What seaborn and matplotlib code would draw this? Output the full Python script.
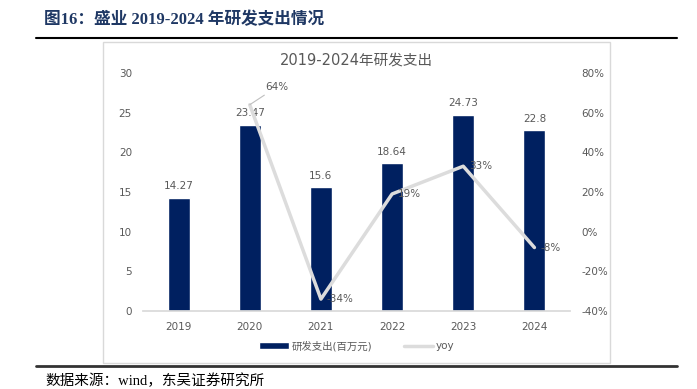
import matplotlib.pyplot as plt
import seaborn as sns
from matplotlib.patches import Rectangle
from matplotlib.lines import Line2D
from matplotlib.ticker import FuncFormatter, FixedLocator

years = ["2019", "2020", "2021", "2022", "2023", "2024"]
rd_spend = [14.27, 23.47, 15.6, 18.64, 24.73, 22.8]
yoy_years = ["2020", "2021", "2022", "2023", "2024"]
yoy = [64, -34, 19, 33, -8]

sns.set_theme(style="white")
plt.rcParams['font.family'] = ['DejaVu Sans', 'Noto Sans CJK SC']
plt.rcParams['axes.unicode_minus'] = False

navy = "#002060"
gray_txt = "#595959"
line_gray = "#d9d9d9"

W, H = 697, 389
fig = plt.figure(figsize=(W / 100, H / 100), dpi=100)


def px(x0, y0, x1, y1):
    return [x0 / W, 1 - y1 / H, (x1 - x0) / W, (y1 - y0) / H]


# header and footer
fig.text(44 / W, 1 - 20 / H, "图16：盛业 2019-2024 年研发支出情况", fontsize=12, fontweight="bold",
         color="#1f3864", va="center", ha="left", family=["Liberation Serif", "Noto Sans CJK SC"])
fig.add_artist(Line2D([36 / W, 677 / W], [1 - 38 / H] * 2, color="black", lw=1.5))
fig.add_artist(Line2D([36 / W, 677 / W], [1 - 366 / H] * 2, color="#333333", lw=2))
fig.text(45 / W, 1 - 381 / H, "数据来源：wind，东吴证券研究所", fontsize=10.5, color="black",
         va="center", ha="left", family=["Liberation Serif", "Noto Sans CJK SC"])
fig.add_artist(Rectangle((103 / W, 1 - 363 / H), (610 - 103) / W, (363 - 42) / H,
                         fill=False, edgecolor="#d9d9d9", lw=1))

ax = fig.add_axes(px(143, 73, 570, 311))
sns.barplot(x=years, y=rd_spend, color=navy, width=0.31, saturation=1, ax=ax, label="研发支出(百万元)")
ax.set_ylim(0, 30)
ax.set_yticks(range(0, 31, 5))
ax.set_xlim(-0.5, 5.5)
for i, v in enumerate(rd_spend):
    ax.text(i, v + 0.8, f"{v:g}", ha="center", va="bottom", fontsize=7.5, color=gray_txt)

ax2 = ax.twinx()
xpos = [years.index(y) for y in yoy_years]
sns.lineplot(x=xpos, y=yoy, color="#dcdcdc", lw=2.5, ax=ax2, label="yoy")
ax2.set_ylim(-40, 80)
ax2.set_yticks(range(-40, 81, 20))
ax2.yaxis.set_major_formatter(FuncFormatter(lambda v, p: f"{v:.0f}%"))
ax2.set_xlim(-0.5, 5.5)

for x, v in zip(xpos, yoy):
    if v == 64:
        ax2.annotate(f"{v}%", xy=(x, v), xytext=(x + 0.22, v + 9), fontsize=7.5, color=gray_txt,
                     ha="left", va="center",
                     arrowprops=dict(arrowstyle="-", color="#bfbfbf", lw=0.8, shrinkA=0, shrinkB=0))
    else:
        ax2.text(x + 0.08, v, f"{v}%", fontsize=7.5, color=gray_txt, ha="left", va="center")

for a in (ax, ax2):
    for s in a.spines.values():
        s.set_visible(False)
    a.tick_params(axis="both", length=0, labelsize=7.5, labelcolor=gray_txt, pad=8)
    a.set_ylabel("")
ax.spines["bottom"].set_visible(True)
ax.spines["bottom"].set_color(line_gray)
ax.xaxis.set_minor_locator(FixedLocator([i - 0.5 for i in range(7)]))
ax.tick_params(axis="x", which="minor", length=3, color=line_gray, direction="out")
ax.tick_params(axis="x", pad=8)

ax.set_title("2019-2024年研发支出", fontsize=10.5, color=gray_txt, pad=6)

h1, l1 = ax.get_legend_handles_labels()
h2, l2 = ax2.get_legend_handles_labels()
ax2.get_legend().remove()
if ax.get_legend():
    ax.get_legend().remove()
fig.legend(h1 + h2, l1 + l2, loc="center", bbox_to_anchor=(357 / W, 1 - 346 / H), ncol=2,
           frameon=False, fontsize=7.5, labelcolor=gray_txt, handlelength=2.8, handleheight=0.6,
           columnspacing=3, handletextpad=0.3)

fig.savefig("out.png", dpi=100)
